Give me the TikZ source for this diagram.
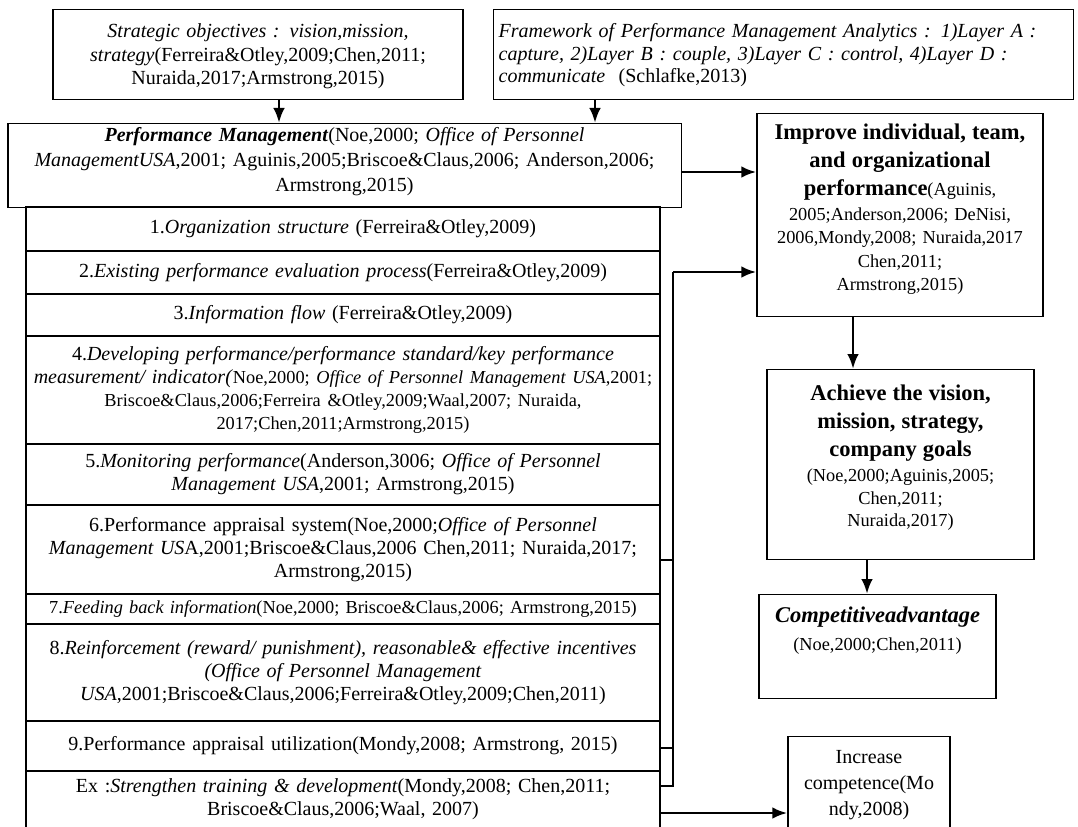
\documentclass[tikz,border=0pt]{standalone}
\usepackage{fontspec}
\setmainfont{Liberation Serif}
\usetikzlibrary{arrows.meta}

\newcommand{\citesize}{\fontsize{11}{13.8}\selectfont}
\newcommand{\headfont}{\fontsize{13.5}{16}\selectfont\bfseries}

\begin{document}
\begin{tikzpicture}[x=0.6pt,y=-0.6pt,>={Latex[length=9pt,width=7pt]},
  every node/.style={draw,line width=0.8pt,inner xsep=3pt,inner ysep=0pt,align=center,
    font=\fontsize{12}{13.8}\selectfont},
  row/.style={minimum width=380.4pt,text width=374pt},
  flow/.style={->,line width=1.7pt},
  bus/.style={line width=0.7pt}]
  \useasboundingbox[fill=white] (0,0) rectangle (1078,827);
  % inputs
  \node[anchor=north,text width=240pt,text height=16.8pt,text depth=37.2pt,
    font=\fontsize{12}{14.1}\selectfont] (strat) at (258,9)
    {\textit{Strategic objectives : vision,mission,}\\
     \textit{strategy}(Ferreira\&Otley,2009;Chen,2011;\\
     Nuraida,2017;Armstrong,2015)};
  \node[anchor=north west,text width=342pt,align=left,text height=16.8pt,text depth=37.2pt,
    font=\fontsize{12}{13.5}\selectfont] (frame) at (493,9)
    {\textit{Framework of Performance Management Analytics : 1)Layer A :}\\
     \textit{capture, 2)Layer B : couple, 3)Layer C : control, 4)Layer D :}\\
     \textit{communicate}\ \ (Schlafke,2013)};
  \node[anchor=north,text width=398pt,text height=10.8pt,text depth=39.6pt,
    font=\fontsize{12}{15}\selectfont] (pm) at (344.5,123)
    {\textbf{\textit{Performance Management}}(Noe,2000; \textit{Office of Personnel}\\
     \textit{ManagementUSA},2001; Aguinis,2005;Briscoe\&Claus,2006; Anderson,2006;\\
     Armstrong,2015)};
  % list of elements
  \node[row,minimum height=26.4pt] (r1) at (343,229)
    {1.\textit{Organization structure} (Ferreira\&Otley,2009)};
  \node[row,minimum height=25.8pt] (r2) at (343,272.5)
    {2.\textit{Existing performance evaluation process}(Ferreira\&Otley,2009)};
  \node[row,minimum height=25.2pt] (r3) at (343,315)
    {3.\textit{Information flow} (Ferreira\&Otley,2009)};
  \node[row,minimum height=64.8pt] (r4) at (343,390)
    {4.\textit{Developing performance/performance standard/key performance}\\
     \textit{measurement/ indicator(}{\citesize Noe,2000; \textit{Office of Personnel Management USA},2001;}\\
     {\citesize Briscoe\&Claus,2006;Ferreira \&Otley,2009;Waal,2007; Nuraida,}\\
     {\citesize 2017;Chen,2011;Armstrong,2015)}};
  \node[row,minimum height=36.6pt] (r5) at (343,474.5)
    {5.\textit{Monitoring performance}(Anderson,3006; \textit{Office of Personnel}\\
     \textit{Management USA},2001; Armstrong,2015)};
  \node[row,minimum height=53.4pt] (r6) at (343,549.5)
    {6.Performance appraisal system(Noe,2000;\textit{Office of Personnel}\\
     \textit{Management US}A,2001;Briscoe\&Claus,2006 Chen,2011; Nuraida,2017;\\
     Armstrong,2015)};
  \node[row,minimum height=18pt,font=\fontsize{11}{13}\selectfont] (r7) at (343,609)
    {7.\textit{Feeding back information}(Noe,2000; Briscoe\&Claus,2006; Armstrong,2015)};
  \node[row,minimum height=58.2pt] (r8) at (343,672.5)
    {8.\textit{Reinforcement (reward/ punishment), reasonable\& effective incentives}\\
     \textit{(Office of Personnel Management}\\
     \textit{USA},2001;Briscoe\&Claus,2006;Ferreira\&Otley,2009;Chen,2011)};
  \node[row,minimum height=30pt] (r9) at (343,746)
    {9.Performance appraisal utilization(Mondy,2008; Armstrong, 2015)};
  \node[row,anchor=north,text height=12.6pt,text depth=46.8pt] (rex) at (343,771)
    {Ex :\textit{Strengthen training \& development}(Mondy,2008; Chen,2011;\\
     Briscoe\&Claus,2006;Waal, 2007)};
  % outcomes
  \node[anchor=north,text width=165.6pt,text height=15.6pt,text depth=106.2pt,
    font=\fontsize{11}{14}\selectfont] (imp) at (900,113)
    {{\headfont Improve individual, team,}\\[2.8pt]
     {\headfont and organizational}\\[2.8pt]
     {\headfont performance}(Aguinis,\\[1pt]
     2005;Anderson,2006; DeNisi,\\
     2006,Mondy,2008; Nuraida,2017\\
     Chen,2011;\\
     Armstrong,2015)};
  \node[anchor=north,text width=154.2pt,text height=18.6pt,text depth=95.4pt,
    font=\fontsize{11}{13.5}\selectfont] (achv) at (900.5,369)
    {{\headfont Achieve the vision,}\\[3.3pt]
     {\headfont mission, strategy,}\\[3.3pt]
     {\headfont company goals}\\[1.5pt]
     (Noe,2000;Aguinis,2005;\\
     Chen,2011;\\
     Nuraida,2017)};
  \node[anchor=north,text width=136.2pt,text height=16.8pt,text depth=45.6pt,
    font=\fontsize{11}{13.8}\selectfont] (comp) at (877.5,594)
    {{\headfont\itshape Competitiveadvantage}\\[3pt]
     (Noe,2000;Chen,2011)};
  \node[anchor=north,text width=91.2pt,text height=16.2pt,text depth=64.2pt,
    font=\fontsize{12}{15.6}\selectfont] (incr) at (869,736)
    {Increase\\ competence(Mo\\ ndy,2008)};
  % connectors
  \draw[flow] (strat.south -| 279,0) -- (pm.north -| 279,0);
  \draw[flow] (frame.south -| 595,0) -- (pm.north -| 595,0);
  \draw[flow] (pm.east |- 0,172) -- (imp.west |- 0,172);
  \coordinate (bus) at (673,272);
  \draw[flow] (bus) -- (imp.west |- bus);
  \draw[bus] (bus) -- (bus |- 0,786) -- (rex.east |- 0,786);
  \draw[bus] (r6.east |- 0,560) -- (bus |- 0,560);
  \draw[bus] (r9.east |- 0,748) -- (bus |- 0,748);
  \draw[flow] (rex.east |- 0,813) -- (incr.west |- 0,813);
  \draw[flow] (imp.south -| 853,0) -- (achv.north -| 853,0);
  \draw[flow] (achv.south -| 867,0) -- (comp.north -| 867,0);
\end{tikzpicture}
\end{document}
